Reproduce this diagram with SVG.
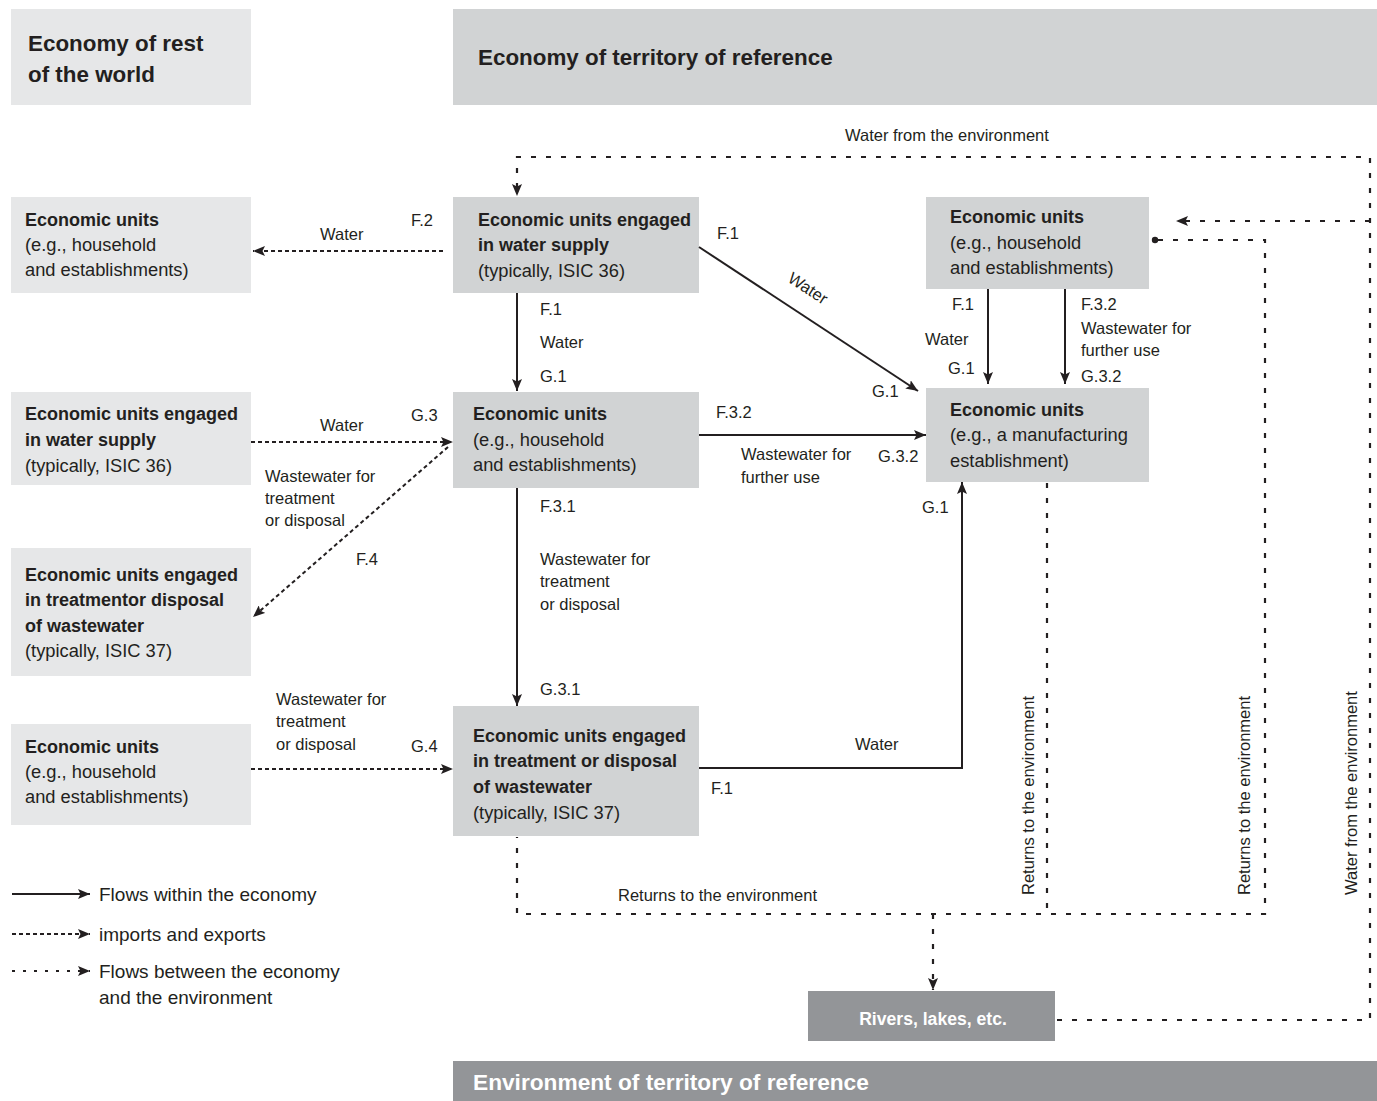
<svg xmlns="http://www.w3.org/2000/svg" width="1377" height="1101" viewBox="0 0 1377 1101">
  <style>
    text { font-family: "Liberation Sans", Arial, sans-serif; fill: #231f20; }
    .hd { font-size: 22.4px; font-weight: bold; }
    .b { font-size: 18px; font-weight: bold; }
    .r { font-size: 18.3px; }
    .lb { font-size: 16.5px; }
    .lg { font-size: 19px; }
    .wt { fill: #ffffff; font-weight: bold; }
    .light { fill: #e6e7e8; }
    .mid { fill: #d1d3d4; }
    .dark { fill: #939598; }
    .solid { fill: none; stroke: #231f20; stroke-width: 2; }
    .imp { fill: none; stroke: #231f20; stroke-width: 2; stroke-dasharray: 4 3; }
    .env { fill: none; stroke: #231f20; stroke-width: 2.2; stroke-dasharray: 5 10; }
  </style>
  <defs>
    <marker id="ah" viewBox="0 0 12 10" refX="12" refY="5" markerWidth="12" markerHeight="10" markerUnits="userSpaceOnUse" orient="auto">
      <path d="M0,0 L12,5 L0,10 L2.5,5 Z" fill="#231f20"/>
    </marker>
  </defs>

  <rect width="1377" height="1101" fill="#ffffff"/>

  <!-- headers -->
  <g id="hdr-world">
    <rect class="light" x="11" y="9" width="240" height="96"/>
    <text class="hd" x="28" y="51">Economy of rest</text>
    <text class="hd" x="28" y="82">of the world</text>
  </g>
  <g id="hdr-territory">
    <rect class="mid" x="453" y="9" width="924" height="96"/>
    <text class="hd" x="478" y="65">Economy of territory of reference</text>
  </g>
  <g id="hdr-environment">
    <rect class="dark" x="453" y="1061" width="924" height="40"/>
    <text class="hd wt" x="473" y="1090" style="font-size:22.7px">Environment of territory of reference</text>
  </g>

  <!-- rest of the world -->
  <g id="row-units-a">
    <rect class="light" x="11" y="197" width="240" height="96"/>
    <text class="b" x="25" y="226">Economic units</text>
    <text class="r" x="25" y="251">(e.g., household</text>
    <text class="r" x="25" y="276">and establishments)</text>
  </g>
  <g id="row-supply">
    <rect class="light" x="11" y="392" width="240" height="93"/>
    <text class="b" x="25" y="420">Economic units engaged</text>
    <text class="b" x="25" y="446">in water supply</text>
    <text class="r" x="25" y="472">(typically, ISIC 36)</text>
  </g>
  <g id="row-treatment">
    <rect class="light" x="11" y="548" width="240" height="128"/>
    <text class="b" x="25" y="581">Economic units engaged</text>
    <text class="b" x="25" y="606">in treatmentor disposal</text>
    <text class="b" x="25" y="632">of wastewater</text>
    <text class="r" x="25" y="657">(typically, ISIC 37)</text>
  </g>
  <g id="row-units-d">
    <rect class="light" x="11" y="724" width="240" height="101"/>
    <text class="b" x="25" y="753">Economic units</text>
    <text class="r" x="25" y="778">(e.g., household</text>
    <text class="r" x="25" y="803">and establishments)</text>
  </g>

  <!-- territory of reference -->
  <g id="ter-supply">
    <rect class="mid" x="453" y="197" width="246" height="96"/>
    <text class="b" x="478" y="226">Economic units engaged</text>
    <text class="b" x="478" y="251">in water supply</text>
    <text class="r" x="478" y="277">(typically, ISIC 36)</text>
  </g>
  <g id="ter-units">
    <rect class="mid" x="453" y="392" width="246" height="96"/>
    <text class="b" x="473" y="420">Economic units</text>
    <text class="r" x="473" y="446">(e.g., household</text>
    <text class="r" x="473" y="471">and establishments)</text>
  </g>
  <g id="ter-treatment">
    <rect class="mid" x="453" y="706" width="246" height="130"/>
    <text class="b" x="473" y="742">Economic units engaged</text>
    <text class="b" x="473" y="767">in treatment or disposal</text>
    <text class="b" x="473" y="793">of wastewater</text>
    <text class="r" x="473" y="819">(typically, ISIC 37)</text>
  </g>
  <g id="ter-units-top">
    <rect class="mid" x="926" y="197" width="223" height="92"/>
    <text class="b" x="950" y="223">Economic units</text>
    <text class="r" x="950" y="249">(e.g., household</text>
    <text class="r" x="950" y="274">and establishments)</text>
  </g>
  <g id="ter-manufacturing">
    <rect class="mid" x="926" y="388" width="223" height="94"/>
    <text class="b" x="950" y="416">Economic units</text>
    <text class="r" x="950" y="441">(e.g., a manufacturing</text>
    <text class="r" x="950" y="467">establishment)</text>
  </g>
  <g id="rivers">
    <rect class="dark" x="808" y="991" width="247" height="50"/>
    <text class="wt" x="933" y="1025" text-anchor="middle" style="font-size:17.6px">Rivers, lakes, etc.</text>
  </g>

  <!-- flows -->
  <g id="connectors">
    <!-- within the economy -->
    <path class="solid" d="M517,293 V391" marker-end="url(#ah)"/>
    <path class="solid" d="M699,247 L918,391" marker-end="url(#ah)"/>
    <path class="solid" d="M699,435 H926" marker-end="url(#ah)"/>
    <path class="solid" d="M517,488 V706" marker-end="url(#ah)"/>
    <path class="solid" d="M699,768 H962 V482" marker-end="url(#ah)"/>
    <path class="solid" d="M988,289 V384" marker-end="url(#ah)"/>
    <path class="solid" d="M1065,289 V384" marker-end="url(#ah)"/>

    <!-- imports and exports -->
    <path class="imp" d="M443,251 H253" marker-end="url(#ah)"/>
    <path class="imp" d="M251,442 H453" marker-end="url(#ah)"/>
    <path class="imp" d="M448,447 L253,617" marker-end="url(#ah)"/>
    <path class="imp" d="M251,769 H453" marker-end="url(#ah)"/>

    <!-- economy / environment -->
    <path class="env" d="M1057,1020 H1370 V157 H517 V196" marker-end="url(#ah)"/>
    <path class="env" d="M1370,221 H1176" marker-end="url(#ah)"/>
    <path class="env" d="M1158,240 H1265 V914 H517 V837"/>
    <circle cx="1155" cy="240" r="3.2" fill="#231f20"/>
    <path class="env" d="M1047,483 V914"/>
    <path class="env" d="M933,914 V990" marker-end="url(#ah)"/>
  </g>

  <!-- flow labels -->
  <g id="labels" class="lb">
    <text class="lb" x="845" y="141">Water from the environment</text>
    <text class="lb" x="411" y="226">F.2</text>
    <text class="lb" x="320" y="240">Water</text>
    <text class="lb" x="717" y="239">F.1</text>
    <text class="lb" x="805" y="293" text-anchor="middle" transform="rotate(33.3 805 293)">Water</text>
    <text class="lb" x="540" y="315">F.1</text>
    <text class="lb" x="540" y="348">Water</text>
    <text class="lb" x="540" y="382">G.1</text>
    <text class="lb" x="872" y="397">G.1</text>
    <text class="lb" x="952" y="310">F.1</text>
    <text class="lb" x="925" y="345">Water</text>
    <text class="lb" x="948" y="374">G.1</text>
    <text class="lb" x="1081" y="310">F.3.2</text>
    <text class="lb" x="1081" y="334">Wastewater for</text>
    <text class="lb" x="1081" y="356">further use</text>
    <text class="lb" x="1081" y="382">G.3.2</text>
    <text class="lb" x="320" y="431">Water</text>
    <text class="lb" x="411" y="421">G.3</text>
    <text class="lb" x="716" y="418">F.3.2</text>
    <text class="lb" x="741" y="460">Wastewater for</text>
    <text class="lb" x="741" y="483">further use</text>
    <text class="lb" x="878" y="462">G.3.2</text>
    <text class="lb" x="265" y="482">Wastewater for</text>
    <text class="lb" x="265" y="504">treatment</text>
    <text class="lb" x="265" y="526">or disposal</text>
    <text class="lb" x="356" y="565">F.4</text>
    <text class="lb" x="540" y="512">F.3.1</text>
    <text class="lb" x="540" y="565">Wastewater for</text>
    <text class="lb" x="540" y="587">treatment</text>
    <text class="lb" x="540" y="610">or disposal</text>
    <text class="lb" x="540" y="695">G.3.1</text>
    <text class="lb" x="922" y="513">G.1</text>
    <text class="lb" x="276" y="705">Wastewater for</text>
    <text class="lb" x="276" y="727">treatment</text>
    <text class="lb" x="276" y="750">or disposal</text>
    <text class="lb" x="411" y="752">G.4</text>
    <text class="lb" x="855" y="750">Water</text>
    <text class="lb" x="711" y="794">F.1</text>
    <text class="lb" x="618" y="901">Returns to the environment</text>
    <text class="lb" x="1034" y="895" transform="rotate(-90 1034 895)">Returns to the environment</text>
    <text class="lb" x="1250" y="895" transform="rotate(-90 1250 895)">Returns to the environment</text>
    <text class="lb" x="1357" y="895" transform="rotate(-90 1357 895)">Water from the environment</text>
  </g>

  <!-- legend -->
  <g id="legend">
    <path class="solid" d="M12,894 H90" marker-end="url(#ah)"/>
    <text class="lg" x="99" y="901">Flows within the economy</text>
    <path class="imp" d="M12,934 H90" marker-end="url(#ah)"/>
    <text class="lg" x="99" y="941">imports and exports</text>
    <path fill="none" stroke="#231f20" stroke-width="2" stroke-dasharray="3 8" d="M12,971 H90" marker-end="url(#ah)"/>
    <text class="lg" x="99" y="978">Flows between the economy</text>
    <text class="lg" x="99" y="1004">and the environment</text>
  </g>
</svg>
